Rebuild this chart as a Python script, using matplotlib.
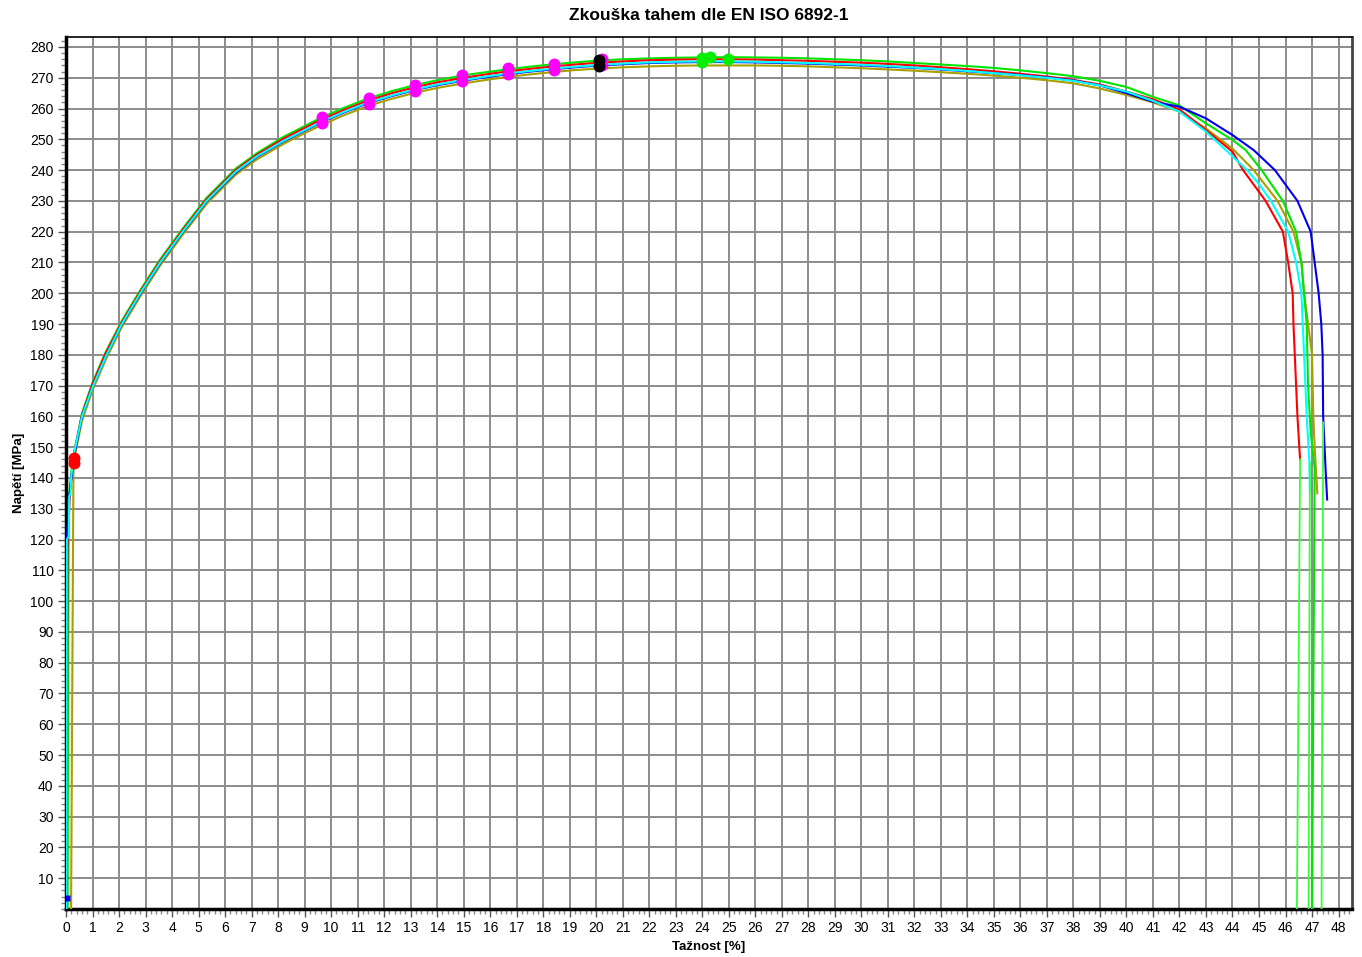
import matplotlib.pyplot as plt
import numpy as np
from matplotlib.ticker import MultipleLocator, FixedLocator

plt.rcParams['font.family'] = ['Liberation Sans', 'DejaVu Sans']

# shared strain grid for the hardening part [%]
body_x = [0.3, 0.6, 1.0, 1.5, 2.1, 2.8, 3.55, 4.4, 5.3, 6.4, 7.2, 8.2, 9.0, 9.65,
          10.5, 11.4, 12.3, 13.2, 14.0, 15.0, 16.0, 16.7, 17.5, 18.4, 19.2, 20.1,
          21, 22, 23, 24, 25, 26, 27, 28, 29, 30, 31, 32, 33, 34, 35, 36, 37, 38,
          39, 40, 41, 42, 43, 44]

# stress [MPa] per specimen on body_x
olive_y = [146, 158.5, 168.5, 178.5, 189, 199, 209, 219, 229, 238.5, 243.5, 248.5, 252, 254.7,
           257.9, 260.9, 263.2, 265.2, 266.7, 268.2, 269.5, 270.3, 271.1, 271.9, 272.5, 273,
           273.4, 273.7, 273.9, 274, 274, 274, 273.9, 273.7, 273.4, 273.1, 272.7, 272.3, 271.8,
           271.3, 270.7, 270, 269.2, 268.2, 266.5, 264.4, 262, 259, 253.5, 247]
green_y = [148, 161, 171, 181, 191, 201, 211, 221, 231, 240.5, 245.5, 250.8, 254.3, 257.2,
           260.3, 263.3, 265.7, 267.7, 269.2, 270.8, 272, 272.8, 273.6, 274.4, 275, 275.6,
           276, 276.3, 276.5, 276.6, 276.7, 276.6, 276.5, 276.3, 276, 275.7, 275.3, 274.8, 274.3,
           273.8, 273.2, 272.4, 271.5, 270.5, 269, 267, 263.8, 261, 255.2, 249.8]
red_y = [148, 160.5, 170.5, 180.5, 190.5, 200.5, 210.5, 220.5, 230.5, 240, 245, 250.2, 253.7, 256.5,
         259.6, 262.6, 265, 267, 268.5, 270, 271.3, 272.1, 272.9, 273.7, 274.3, 274.9,
         275.3, 275.7, 275.9, 276, 276, 275.9, 275.7, 275.5, 275.2, 274.9, 274.5, 274, 273.4,
         272.8, 272.1, 271.3, 270.4, 269.3, 267.8, 265.5, 263, 259.7, 253, 246]
blue_y = [147, 160, 169.5, 179.5, 189.8, 199.8, 209.8, 219.8, 229.8, 239.2, 244.3, 249.3, 252.8, 255.6,
          258.8, 261.8, 264.1, 266.1, 267.6, 269.1, 270.4, 271.2, 272, 272.8, 273.4, 274,
          274.4, 274.8, 275, 275.1, 275.1, 275, 274.8, 274.6, 274.3, 274, 273.6, 273.2, 272.7,
          272.1, 271.5, 270.9, 270.1, 269.1, 267.5, 265, 262.2, 260.6, 256.8, 251.4]
cyan_y = [148, 160, 169.5, 179.5, 190, 200, 210, 220, 230, 239.5, 244.5, 249.5, 253, 255.8,
          259, 262, 264.3, 266.3, 267.8, 269.3, 270.6, 271.4, 272.2, 273, 273.6, 274.2,
          274.6, 275, 275.2, 275.3, 275.3, 275.2, 275, 274.8, 274.5, 274.2, 273.8, 273.3, 272.8,
          272.2, 271.5, 270.8, 270, 269, 267.5, 265.5, 262.5, 259, 252.5, 244.5]

# elastic start of each specimen
olive_ex, olive_ey = [0.19, 0.28], [0, 145]
green_ex, green_ey = [0.05, 0.1, 0.2], [0, 133, 142]
red_ex, red_ey = [0.03, 0.05, 0.15], [0, 117, 136]
blue_ex, blue_ey = [0.02, 0.04, 0.12], [0, 121, 134]
cyan_ex, cyan_ey = [0.02, 0.03, 0.1, 0.12, 0.17, 0.19], [0, 120, 121, 134, 135, 140]

# necking and fracture of each specimen
olive_tx = [44.8, 45.7, 46.3, 46.6, 46.7, 46.85, 47.0, 47.05, 47.1, 47.2]
olive_ty = [240, 230, 220, 210, 200, 190, 180, 160, 150, 135]
green_tx = [44.5, 45.1, 45.9, 46.4, 46.6, 46.7, 46.8, 46.85, 46.95, 47.1, 47.0]
green_ty = [246.5, 240, 230, 220, 210, 200, 190, 170, 155, 143, 0]
red_tx = [44.4, 45.25, 45.9, 46.1, 46.27, 46.3, 46.35, 46.4, 46.45, 46.55]
red_ty = [240, 230, 220, 210, 200, 190, 180, 170, 160, 146]
blue_tx = [44.8, 45.6, 46.45, 46.95, 47.1, 47.25, 47.35, 47.4, 47.42, 47.5, 47.57]
blue_ty = [246.5, 240, 230, 220, 210, 200, 190, 180, 160, 145, 133]
cyan_tx = [44.55, 45.0, 45.45, 46.1, 46.4, 46.6, 46.65, 46.7, 46.75, 46.8, 46.9, 46.92]
cyan_ty = [240, 235.5, 230, 220, 210, 200, 190, 180, 170, 160, 145, 136]

# rupture drops
drops = [([46.55, 46.43], [146, 0]),
         ([46.92, 46.87], [145, 0]),
         ([47.42, 47.36], [158, 0])]

# evaluated points
mag_x = [9.65, 11.43, 13.17, 14.93, 16.67, 18.42, 20.2]
mag_lo = [255.3, 261.4, 265.8, 268.8, 271.2, 272.6, 274.0]
mag_hi = [257.3, 263.4, 267.8, 270.8, 273.2, 274.6, 276.0]
blk_x, blk_lo, blk_hi = [20.09], [273.9], [275.9]
lime_x = [23.99, 23.99, 24.3, 24.97]
lime_y = [275.0, 276.4, 276.8, 276.0]
red_mx, red_my = [0.3, 0.3], [145.0, 146.5]
blue_mx, blue_my = [0.05], [3.5]

fig = plt.figure(figsize=(13.62, 9.57), dpi=100)
ax = fig.add_axes([0.0485, 0.0502, 0.944, 0.911])

curves = [
    ('#a8a000', olive_ex, olive_ey, olive_y, olive_tx, olive_ty),
    ('#00e600', green_ex, green_ey, green_y, green_tx, green_ty),
    ('#ff0000', red_ex, red_ey, red_y, red_tx, red_ty),
    ('#0000ee', blue_ex, blue_ey, blue_y, blue_tx, blue_ty),
    ('#00ffff', cyan_ex, cyan_ey, cyan_y, cyan_tx, cyan_ty),
]
for color, ex, ey, by, tx, ty in curves:
    xs = ex + body_x + tx
    ys = ey + by + ty
    ax.plot(xs, ys, color=color, lw=1.5, zorder=3)

for dx, dy in drops:
    ax.plot(dx, dy, color='#33ff33', lw=1.3, zorder=3)

ms = 8.6
ax.plot(mag_x, mag_lo, 'o', color='#ff00ff', ms=ms, mec='none', zorder=4)
ax.plot(mag_x, mag_hi, 'o', color='#ff00ff', ms=ms, mec='none', zorder=4)
ax.plot(blk_x, blk_lo, 'o', color='black', ms=ms, mec='none', zorder=5)
ax.plot(blk_x, blk_hi, 'o', color='black', ms=ms, mec='none', zorder=5)
ax.plot(lime_x, lime_y, 'o', color='#00ee00', ms=ms, mec='none', zorder=4)
ax.plot(red_mx, red_my, 'o', color='#ff0000', ms=ms, mec='none', zorder=4)
ax.plot(blue_mx, blue_my, 's', color='#0000ff', ms=5, mec='none', zorder=4)

ax.set_xlim(0, 48.5)
ax.set_ylim(0, 283.2)

ax.xaxis.set_major_locator(MultipleLocator(1))
ax.xaxis.set_minor_locator(MultipleLocator(0.2))
ax.yaxis.set_major_locator(FixedLocator(np.arange(10, 290, 10)))
ax.yaxis.set_minor_locator(MultipleLocator(2))

ax.grid(True, which='major', color='#8c8c8c', lw=1.4, zorder=1)
ax.set_axisbelow(True)

ax.tick_params(which='major', direction='out', length=6, width=1, color='#555555',
               labelsize=10, pad=3)
ax.tick_params(which='minor', direction='out', length=3.5, width=1, color='#888888')

for side in ('left', 'bottom'):
    ax.spines[side].set_linewidth(2.5)
    ax.spines[side].set_color('black')
ax.spines['top'].set_linewidth(1.2)
ax.spines['right'].set_linewidth(2)
ax.spines['right'].set_color('#444444')

ax.set_title('Zkouška tahem dle EN ISO 6892-1', fontsize=12.5, fontweight='bold', pad=12)
ax.set_xlabel('Tažnost [%]', fontsize=9.5, fontweight='bold', labelpad=4)
ax.set_ylabel('Napětí [MPa]', fontsize=9.5, fontweight='bold', labelpad=4)

fig.savefig('out.png', dpi=100)
